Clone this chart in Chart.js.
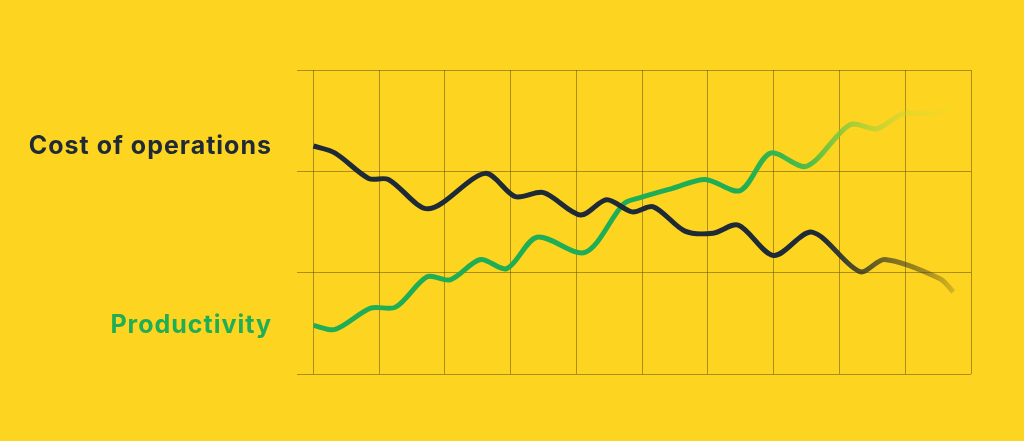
<!DOCTYPE html>
<html>
<head>
<meta charset="utf-8">
<script src="https://cdn.jsdelivr.net/npm/chart.js@4"></script>
<style>
  html, body { margin: 0; padding: 0; background: #fdd520; }
  #wrap { width: 1024px; height: 441px; }
</style>
</head>
<body>
<div id="wrap"><canvas id="opsChart" width="1024" height="441"></canvas></div>
<script>
// values (x = grid column, y = grid row from bottom)
const costX = [0, 0.33, 0.84, 1.14, 1.75, 2.61, 3.07, 3.5, 4.06, 4.46, 4.85, 5.17, 5.65, 6.08, 6.46, 7.0, 7.58, 8.31, 8.69, 9.53, 9.73];
const costY = [2.25, 2.18, 1.93, 1.92, 1.63, 1.98, 1.75, 1.79, 1.57, 1.72, 1.60, 1.65, 1.41, 1.39, 1.47, 1.17, 1.40, 1.01, 1.13, 0.94, 0.81];
const prodX = [0, 0.33, 0.87, 1.25, 1.73, 2.08, 2.54, 2.94, 3.40, 4.13, 4.72, 4.97, 5.45, 5.96, 6.49, 6.95, 7.5, 8.16, 8.57, 8.97, 9.43, 9.73];
const prodY = [0.48, 0.44, 0.65, 0.66, 0.96, 0.93, 1.13, 1.04, 1.35, 1.20, 1.68, 1.74, 1.83, 1.92, 1.81, 2.18, 2.05, 2.46, 2.42, 2.57, 2.57, 2.64];
const seriesNames = ["Cost of operations", "Productivity"];

const pts = (xs, ys) => xs.map((x, i) => ({ x: x, y: ys[i] }));

// line colour that fades out toward the right edge
function fade(stops) {
    return (c) => {
        const area = c.chart.chartArea;
        if (!area) return stops[0][1];
        const g = c.chart.ctx.createLinearGradient(area.left, 0, area.right, 0);
        stops.forEach(s => g.addColorStop(s[0], s[1]));
        return g;
    };
}

const sideLabels = {
    id: "sideLabels",
    afterDatasetsDraw(chart) {
        const ctx = chart.ctx;
        ctx.save();
        ctx.font = "bold 25px Inter, 'DejaVu Sans', sans-serif";
        ctx.letterSpacing = "1px";
        ctx.textAlign = "right";
        ctx.textBaseline = "middle";
        chart.data.datasets.forEach((ds, i) => {
            const p = chart.getDatasetMeta(i).data[0];
            ctx.fillStyle = ds.labelColor;
            ctx.fillText(ds.label, 272, p.y);
        });
        ctx.restore();
    }
};

new Chart(document.getElementById("opsChart"), {
    type: "line",
    data: {
        datasets: [{
            label: seriesNames[0],
            labelColor: "#1f2a37",
            data: pts(costX, costY),
            borderColor: fade([[0, "#1f2a37"], [0.78, "#1f2a37"], [0.85, "rgba(55,58,40,0.8)"], [0.93, "rgba(70,65,30,0.5)"], [1, "rgba(70,65,30,0.05)"]]),
            borderWidth: 5,
            tension: 0.3,
            pointRadius: 0
        }, {
            label: seriesNames[1],
            labelColor: "#1fae55",
            data: pts(prodX, prodY),
            borderColor: fade([[0, "#1fae55"], [0.66, "#1fae55"], [0.76, "#50bd48"], [0.84, "rgba(150,205,60,0.65)"], [0.93, "rgba(205,220,60,0.3)"], [1, "rgba(230,225,50,0.05)"]]),
            borderWidth: 5,
            tension: 0.3,
            pointRadius: 0
        }]
    },
    options: {
        responsive: false,
        animation: false,
        layout: { padding: { left: 297, right: 53, top: 70, bottom: 67 } },
        plugins: { legend: { display: false }, tooltip: { enabled: false } },
        scales: {
            x: {
                type: "linear",
                min: -0.25,
                max: 10,
                ticks: { display: false, stepSize: 1, includeBounds: false },
                grid: { color: "rgba(90,70,20,0.5)", lineWidth: 1, drawTicks: false },
                border: { display: false }
            },
            y: {
                min: 0,
                max: 3,
                ticks: { display: false, stepSize: 1 },
                grid: { color: "rgba(90,70,20,0.5)", lineWidth: 1, drawTicks: false },
                border: { display: false }
            }
        }
    },
    plugins: [sideLabels]
});
</script>
</body>
</html>
